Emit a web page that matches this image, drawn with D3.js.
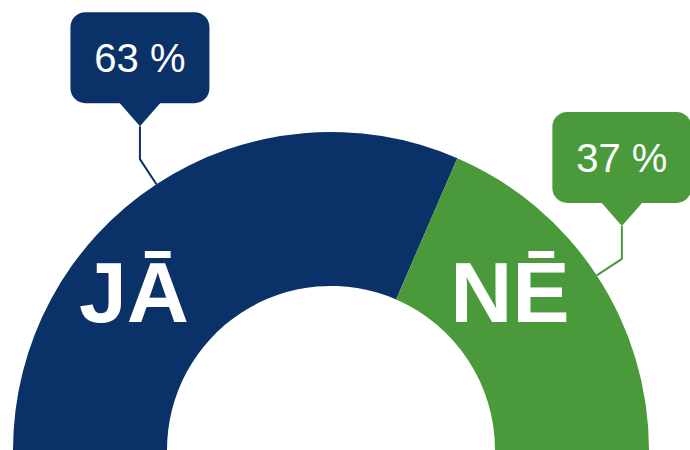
<!DOCTYPE html>
<html>
<head>
<meta charset="utf-8">
<script src="https://cdn.jsdelivr.net/npm/d3@7"></script>
<style>
  html, body { margin: 0; padding: 0; background: #fff; }
  svg { display: block; font-family: "Liberation Sans", Arial, sans-serif; }
</style>
</head>
<body>
<svg id="chart" width="690" height="450"></svg>
<script>
const categories = ["JĀ", "NĒ"];
const values = [63, 37];
const valueLabels = ["63 %", "37 %"];
const colors = ["#0b3268", "#4a9a3c"];

const W = 690, H = 450;
const cx = 331, cy = 450;
const outerR = 318, innerR = 164;

const svg = d3.select("#chart");
const g = svg.append("g").attr("transform", `translate(${cx},${cy})`);

const pie = d3.pie().sort(null).value(d => d.value)
  .startAngle(-Math.PI / 2).endAngle(Math.PI / 2);
const data = categories.map((c, i) => ({ cat: c, value: values[i], label: valueLabels[i], color: colors[i] }));
const arcs = pie(data);

const arc = d3.arc().innerRadius(innerR).outerRadius(outerR);

g.selectAll("path.slice").data(arcs).enter().append("path")
  .attr("class", "slice")
  .attr("d", arc)
  .attr("fill", d => d.data.color);

// category labels inside the ring
const labelOffsets = [[-197, -128], [179, -128]];
g.selectAll("text.cat").data(arcs).enter().append("text")
  .attr("class", "cat")
  .attr("x", (d, i) => labelOffsets[i][0])
  .attr("y", (d, i) => labelOffsets[i][1])
  .attr("text-anchor", "middle")
  .attr("fill", "#fff")
  .attr("font-weight", "bold")
  .attr("font-size", 86)
  .text(d => d.data.cat);

// callouts
const elbowGap = 30, vertLen = 33, tipH = 23, tipHalf = 21;
const boxW = 139, boxH = 91, boxR = 15;

arcs.forEach(d => {
  const a = (d.startAngle + d.endAngle) / 2;
  const ux = Math.sin(a), uy = -Math.cos(a);
  const p0 = [ux * outerR, uy * outerR];
  const p1 = [ux * (outerR + elbowGap), uy * (outerR + elbowGap)];
  const p2 = [p1[0], p1[1] - vertLen];
  const color = d.data.color;

  g.append("path")
    .attr("d", d3.line()([p0, p1, p2]))
    .attr("fill", "none")
    .attr("stroke", color)
    .attr("stroke-width", 2);

  const bx = p2[0] - boxW / 2;
  const by = p2[1] - tipH - boxH;
  g.append("rect")
    .attr("x", bx).attr("y", by)
    .attr("width", boxW).attr("height", boxH)
    .attr("rx", boxR).attr("ry", boxR)
    .attr("fill", color);

  g.append("path")
    .attr("d", d3.line()([[p2[0] - tipHalf, by + boxH - 1], [p2[0] + tipHalf, by + boxH - 1], [p2[0], p2[1]]]) + "Z")
    .attr("fill", color);

  g.append("text")
    .attr("x", p2[0])
    .attr("y", by + 60)
    .attr("text-anchor", "middle")
    .attr("fill", "#fff")
    .attr("font-size", 40)
    .text(d.data.label);
});
</script>
</body>
</html>
